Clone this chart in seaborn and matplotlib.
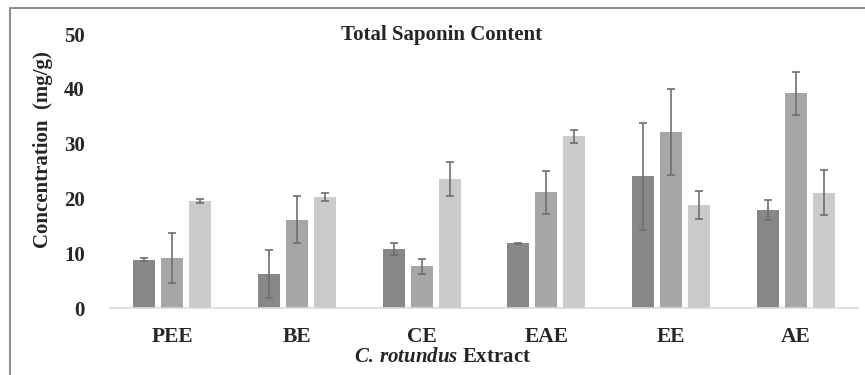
import matplotlib
matplotlib.use("Agg")
import matplotlib.pyplot as plt
from matplotlib.lines import Line2D
import numpy as np
import pandas as pd
import seaborn as sns

# Extracts of C. rotundus and their total saponin content (mg/g), three groups each
extracts = ["PEE", "BE", "CE", "EAE", "EE", "AE"]
groups = ["Group 1", "Group 2", "Group 3"]
means_g1 = [8.8, 6.2, 10.8, 11.8, 24.0, 17.9]
means_g2 = [9.1, 16.1, 7.6, 21.1, 32.1, 39.2]
means_g3 = [19.5, 20.2, 23.5, 31.3, 18.8, 21.0]
sd_g1 = [0.25, 4.4, 1.1, 0.1, 9.7, 1.8]
sd_g2 = [4.5, 4.3, 1.4, 3.9, 7.8, 3.9]
sd_g3 = [0.3, 0.7, 3.1, 1.25, 2.5, 4.1]
yticks = [0, 10, 20, 30, 40, 50]

palette = ["#878787", "#a6a6a6", "#cbcbcb"]

df = pd.DataFrame({
    "extract": extracts * 3,
    "group": np.repeat(groups, len(extracts)),
    "mean": means_g1 + means_g2 + means_g3,
    "sd": sd_g1 + sd_g2 + sd_g3,
})

sns.set_style("white")
plt.rcParams["font.family"] = ["Liberation Serif", "DejaVu Serif"]
plt.rcParams["mathtext.fontset"] = "custom"
plt.rcParams["mathtext.rm"] = "Liberation Serif:bold"
plt.rcParams["mathtext.it"] = "Liberation Serif:italic:bold"
plt.rcParams["mathtext.bf"] = "Liberation Serif:bold"

fig = plt.figure(figsize=(8.65, 3.75), dpi=100)
ax = fig.add_axes([110 / 865, 1 - 308 / 375, (858 - 110) / 865, (308 - 34) / 375])

sns.barplot(data=df, x="extract", y="mean", hue="group", order=extracts,
            hue_order=groups, palette=palette, errorbar=None, width=0.672,
            gap=0.21, saturation=1, legend=False, ax=ax, linewidth=0)

# error bars at the centre of each bar
bars = [p for p in ax.patches if p.get_height() > 0]
for g_i, g in enumerate(groups):
    sub = df[df["group"] == g].set_index("extract").loc[extracts]
    group_bars = bars[g_i * len(extracts):(g_i + 1) * len(extracts)]
    xs = [b.get_x() + b.get_width() / 2 for b in group_bars]
    ax.errorbar(xs, sub["mean"].values, yerr=sub["sd"].values, fmt="none",
                ecolor="#6e6e6e", elinewidth=1.2, capsize=3.2, capthick=1.2,
                zorder=5)

ax.set_xlim(-0.5, len(extracts) - 0.5)
ax.set_ylim(0, 50)
ax.set_yticks(yticks)
ax.set_yticklabels([str(t) for t in yticks], fontsize=15, fontweight="bold")
ax.set_xticklabels(extracts, fontsize=15.5, fontweight="bold")
ax.tick_params(axis="both", length=0)
ax.tick_params(axis="y", pad=18)
ax.tick_params(axis="x", pad=14)
ax.set_xlabel("")
ax.set_ylabel("Concentration  (mg/g)", fontsize=15, fontweight="bold")
ax.yaxis.set_label_coords(-0.076, 0.58)

for side in ["top", "right", "left"]:
    ax.spines[side].set_visible(False)
ax.spines["bottom"].set_color("#d9d9d9")
ax.spines["bottom"].set_linewidth(1.2)

fig.text(442 / 865, 1 - 35 / 375, "Total Saponin Content", ha="center",
         va="center", fontsize=15, fontweight="bold")
fig.text(443 / 865, 1 - 357 / 375,
         r"$\mathit{C.\,rotundus}$ Extract",
         ha="center", va="center", fontsize=15, fontweight="bold")

# chart frame
fig.add_artist(Line2D([10 / 865, 1.0], [1 - 8 / 375] * 2, color="#8f8f8f",
                      lw=1.5, transform=fig.transFigure))
fig.add_artist(Line2D([10 / 865] * 2, [0.0, 1 - 8 / 375], color="#8f8f8f",
                      lw=1.5, transform=fig.transFigure))

fig.savefig("out.png", dpi=100)
